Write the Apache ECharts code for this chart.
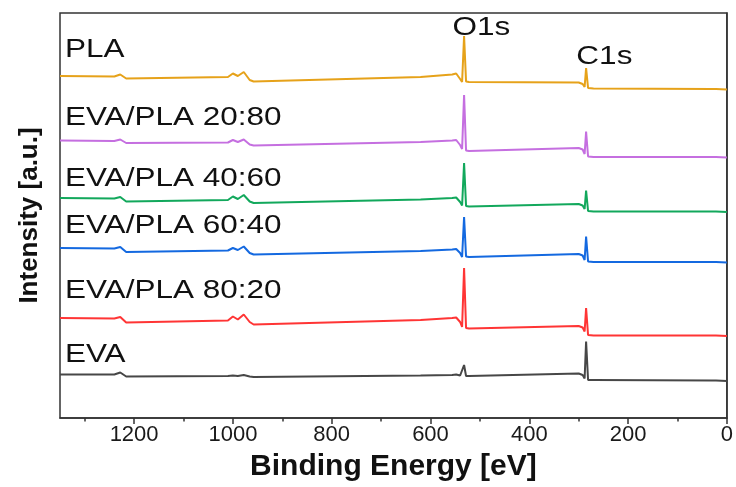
<!DOCTYPE html>
<html>
<head>
<meta charset="utf-8">
<script src="https://cdn.jsdelivr.net/npm/echarts@6/dist/echarts.min.js"></script>
<style>
  html, body { margin: 0; padding: 0; background: #fff; }
</style>
</head>
<body>
<div id="xpsChart" style="width: 736px; height: 487px;"></div>
<script>
// binding energy (eV) of the points
const energy = [1350, 1240, 1228, 1216, 1010, 1000, 990, 978, 966, 958, 620, 556, 548, 540, 536, 532, 528, 522, 300, 292, 288, 285, 281, 270, 30, 26, 22, 0];

// stacked intensities (a.u., offset already included)
const plaValues = [342, 341.5, 343.5, 339.5, 341, 344.5, 342, 346, 338, 336.5, 341, 343.5, 344.5, 339, 336, 382, 336.5, 336, 335.5, 334, 331, 350, 330, 329.5, 329, 330.5, 329, 328.5];
const blend2080Values = [277.5, 277, 278.5, 275, 275.5, 278, 276, 278.5, 273.5, 272.5, 276, 277.5, 278, 273, 269, 323, 267.5, 267, 270, 268.5, 264, 286.5, 261.5, 261, 261, 262.5, 261, 260.5];
const blend4060Values = [220, 219.5, 221, 216.5, 218, 221.5, 219, 223, 216.5, 215, 218.5, 220, 220.5, 216, 212.5, 255, 212, 211.5, 214, 212.5, 209, 227.5, 207, 206.5, 206.5, 208, 206.5, 206];
const blend6040Values = [170, 169.5, 171, 166, 167.5, 170, 168, 171.5, 165, 163.5, 167, 168.5, 169, 165, 161, 201, 161.5, 161, 164, 162.5, 158, 181.5, 156.5, 156, 156, 157.5, 156, 155.5];
const blend8020Values = [100, 99.5, 101, 95.5, 97.5, 101.5, 98.5, 103.5, 96, 93.5, 98, 100, 100.5, 96, 91, 150, 90, 89.5, 92, 90.5, 86.5, 110, 83, 82.5, 82.5, 84, 82.5, 82];
const evaValues = [43.5, 43.5, 45.5, 41.5, 42, 42.5, 42, 43, 41.5, 41, 42.5, 43, 43.5, 42.5, 42, 53, 42, 42, 44.5, 43, 39.5, 76.5, 38, 38, 37.5, 38.5, 37.5, 37];

const sampleNames = ['PLA', 'EVA/PLA 20:80', 'EVA/PLA 40:60', 'EVA/PLA 60:40', 'EVA/PLA 80:20', 'EVA'];
const sampleValues = [plaValues, blend2080Values, blend4060Values, blend6040Values, blend8020Values, evaValues];
const sampleColors = ['#e6a21a', '#c56fe0', '#12a85c', '#1469e0', '#ff3535', '#474747'];
// where the sample names sit (energy, intensity)
const nameLevels = [368, 300, 239, 192, 127, 63];
const nameEnergy = 1340;

// peak annotations
const peakNames = ['O1s', 'C1s'];
const peakEnergy = [497, 248];
const peakLevels = [390, 361];

const xTicks = [0, 200, 400, 600, 800, 1000, 1200];
const xMinorTicks = [100, 300, 500, 700, 900, 1100, 1300];

let chart = echarts.init(document.getElementById('xpsChart'));

let series = sampleNames.map((name, k) => ({
  name: name,
  type: 'line',
  xAxisIndex: 0,
  showSymbol: false,
  symbol: 'none',
  lineStyle: { width: 2, color: sampleColors[k] },
  itemStyle: { color: sampleColors[k] },
  data: energy.map((e, i) => [e, sampleValues[k][i]])
}));

chart.setOption({
  animation: false,
  grid: {
    left: 60, right: 9, top: 13, bottom: 69,
    show: true,
    borderColor: '#333',
    borderWidth: 1.5
  },
  xAxis: [
    {
      type: 'value',
      min: 0,
      max: 1350,
      interval: 200,
      inverse: true,
      name: 'Binding Energy [eV]',
      nameLocation: 'middle',
      nameGap: 34,
      nameTextStyle: {
        fontFamily: 'Liberation Sans',
        fontWeight: 'bold',
        fontSize: 30,
        color: '#111'
      },
      axisLine: { show: true, onZero: false, lineStyle: { color: '#333', width: 1.5 } },
      axisTick: { show: true, length: 6, lineStyle: { color: '#333', width: 1.5 }, customValues: xTicks },
      axisLabel: {
        fontFamily: 'Liberation Sans',
        fontSize: 22,
        color: '#1a1a1a',
        margin: 6,
        customValues: xTicks,
        formatter: (v) => String(v)
      },
      splitLine: { show: false }
    },
    {
      // minor ticks only
      type: 'value',
      min: 0,
      max: 1350,
      inverse: true,
      position: 'bottom',
      axisLine: { show: false },
      axisTick: { show: true, length: 3.5, lineStyle: { color: '#333', width: 1.5 }, customValues: xMinorTicks },
      axisLabel: { show: false },
      splitLine: { show: false }
    }
  ],
  yAxis: {
    type: 'value',
    min: 0,
    max: 405,
    name: 'Intensity [a.u.]',
    nameLocation: 'middle',
    nameGap: 17,
    nameTextStyle: {
      fontFamily: 'Liberation Sans',
      fontWeight: 'bold',
      fontSize: 26,
      color: '#111'
    },
    axisLine: { show: true, lineStyle: { color: '#333', width: 1.5 } },
    axisTick: { show: false },
    axisLabel: { show: false },
    splitLine: { show: false }
  },
  series: series
});

// text labels placed through the axes, stretched a bit like the original
let graphics = [];
sampleNames.forEach((name, k) => {
  let p = chart.convertToPixel({ xAxisIndex: 0, yAxisIndex: 0 }, [nameEnergy, nameLevels[k]]);
  graphics.push({
    type: 'text',
    x: p[0], y: p[1],
    scaleX: 1.26,
    style: {
      text: name,
      fill: '#111',
      font: '25px "Liberation Sans"',
      textAlign: 'left',
      textVerticalAlign: 'middle'
    }
  });
});
peakNames.forEach((name, k) => {
  let p = chart.convertToPixel({ xAxisIndex: 0, yAxisIndex: 0 }, [peakEnergy[k], peakLevels[k]]);
  graphics.push({
    type: 'text',
    x: p[0], y: p[1],
    scaleX: 1.26,
    style: {
      text: name,
      fill: '#111',
      font: '25px "Liberation Sans"',
      textAlign: 'center',
      textVerticalAlign: 'middle'
    }
  });
});
chart.setOption({ graphic: graphics });

window.onresize = () => {
  chart.resize();
};
</script>
</body>
</html>
